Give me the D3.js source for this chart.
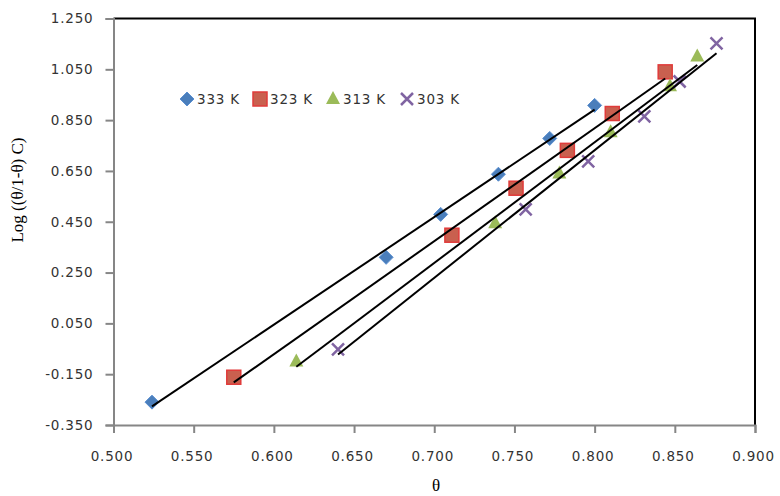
<!DOCTYPE html>
<html>
<head>
<meta charset="utf-8">
<script src="https://cdn.jsdelivr.net/npm/d3@7"></script>
<style>
  body { margin: 0; background: #fff; }
  .tick text { font-family: "DejaVu Sans", sans-serif; font-size: 13.5px; letter-spacing: 0.8px; fill: #333; }
  .legend text { font-family: "DejaVu Sans", sans-serif; font-size: 13.5px; letter-spacing: 0.8px; fill: #333; }
  .axis-title { font-family: "Liberation Serif", serif; font-size: 17px; fill: #000; }
</style>
</head>
<body>
<div id="chart"></div>
<script>
// series data (theta, log(theta/(1-theta) C))
var series = ["333 K", "323 K", "313 K", "303 K"];
var theta333 = [0.524, 0.670, 0.704, 0.740, 0.772, 0.800];
var log333   = [-0.260, 0.310, 0.479, 0.637, 0.778, 0.908];
var theta323 = [0.575, 0.711, 0.751, 0.783, 0.811, 0.844];
var log323   = [-0.162, 0.397, 0.582, 0.731, 0.876, 1.040];
var theta313 = [0.614, 0.738, 0.778, 0.810, 0.847, 0.864];
var log313   = [-0.100, 0.444, 0.640, 0.802, 0.983, 1.100];
var theta303 = [0.640, 0.757, 0.796, 0.831, 0.853, 0.876];
var log303   = [-0.052, 0.499, 0.688, 0.865, 1.002, 1.152];
var xTicks = [0.5, 0.55, 0.6, 0.65, 0.7, 0.75, 0.8, 0.85, 0.9];
var yTicks = [-0.35, -0.15, 0.05, 0.25, 0.45, 0.65, 0.85, 1.05, 1.25];

var thetas = [theta333, theta323, theta313, theta303];
var logs = [log333, log323, log313, log303];
var colors = ["#4a7ebb", "#c0504d", "#9bbb59", "#8064a2"];
var shapes = ["diamond", "square", "triangle", "cross"];

var width = 780, height = 496;
var plotLeft = 113.5, plotRight = 755, plotTop = 18.5, plotBottom = 425;

var svg = d3.select("#chart").append("svg")
    .attr("width", width)
    .attr("height", height);

var x = d3.scaleLinear().domain([0.5, 0.9]).range([plotLeft, plotRight]);
var y = d3.scaleLinear().domain([-0.35, 1.25]).range([plotBottom, plotTop]);

// black frame on top and right
svg.append("path")
    .attr("d", "M" + plotLeft + "," + plotTop + "H" + plotRight + "V" + plotBottom)
    .attr("fill", "none")
    .attr("stroke", "#000")
    .attr("stroke-width", 2);

// plain hyphen for negatives, like the original
var fmt = function(d) { return d3.format(".3f")(d).replace("\u2212", "-"); };

var xAxis = d3.axisBottom(x).tickValues(xTicks).tickFormat(fmt).tickSize(8).tickPadding(18);
var yAxis = d3.axisLeft(y).tickValues(yTicks).tickFormat(fmt).tickSize(8).tickPadding(12);

var gx = svg.append("g")
    .attr("transform", "translate(0," + plotBottom + ")")
    .call(xAxis);
var gy = svg.append("g")
    .attr("transform", "translate(" + plotLeft + ",0)")
    .call(yAxis);
[gx, gy].forEach(function(g) {
  g.select(".domain").attr("stroke", "#868686").attr("stroke-width", 2);
  g.selectAll(".tick line").attr("stroke", "#868686").attr("stroke-width", 2);
});
gx.selectAll(".tick text").attr("dx", "-2");

// regression lines
function fit(xs, ys) {
  var n = xs.length, mx = d3.mean(xs), my = d3.mean(ys);
  var sxy = 0, sxx = 0;
  for (var i = 0; i < n; i++) { sxy += (xs[i] - mx) * (ys[i] - my); sxx += (xs[i] - mx) * (xs[i] - mx); }
  var b = sxy / sxx;
  return function(v) { return my + b * (v - mx); };
}

// markers
function marker(g, shape, color) {
  if (shape === "diamond") {
    g.append("path").attr("d", "M0,-7L7,0L0,7L-7,0Z").attr("fill", color).attr("stroke", "#5a8fd0").attr("stroke-width", 1);
  } else if (shape === "square") {
    g.append("rect").attr("x", -7).attr("y", -7).attr("width", 14).attr("height", 14)
      .attr("fill", "#c9604f").attr("stroke", "#e03b3a").attr("stroke-width", 1.5);
  } else if (shape === "triangle") {
    g.append("path").attr("d", "M0,-8L7,5L-7,5Z").attr("fill", color);
  } else {
    g.append("path").attr("d", "M-6,-6L6,6M-6,6L6,-6").attr("stroke", color).attr("stroke-width", 2.5).attr("fill", "none");
  }
}

for (var s = 0; s < series.length; s++) {
  var pts = thetas[s].map(function(t, i) { return [t, logs[s][i]]; });
  pts.forEach(function(p) {
    var g = svg.append("g").attr("transform", "translate(" + x(p[0]) + "," + y(p[1]) + ")");
    marker(g, shapes[s], colors[s]);
  });
}

for (var s2 = 0; s2 < series.length; s2++) {
  var f = fit(thetas[s2], logs[s2]);
  var x0 = d3.min(thetas[s2]), x1 = d3.max(thetas[s2]);
  svg.append("line")
    .attr("x1", x(x0)).attr("y1", y(f(x0)))
    .attr("x2", x(x1)).attr("y2", y(f(x1)))
    .attr("stroke", "#000")
    .attr("stroke-width", 2);
}

// legend
var legendX = [187, 260, 333, 407];
var legend = svg.append("g").attr("class", "legend");
series.forEach(function(name, i) {
  var g = legend.append("g").attr("transform", "translate(" + legendX[i] + ",99)");
  marker(g, shapes[i], colors[i]);
  g.append("text").attr("x", 10).attr("y", 0).attr("dy", "0.35em").text(name);
});

// axis titles
svg.append("text")
    .attr("class", "axis-title")
    .attr("text-anchor", "middle")
    .attr("transform", "translate(23,190) rotate(-90)")
    .text("Log ((θ/1-θ) C)");

svg.append("text")
    .attr("class", "axis-title")
    .attr("text-anchor", "middle")
    .attr("x", 436)
    .attr("y", 491)
    .text("θ");
</script>
</body>
</html>
